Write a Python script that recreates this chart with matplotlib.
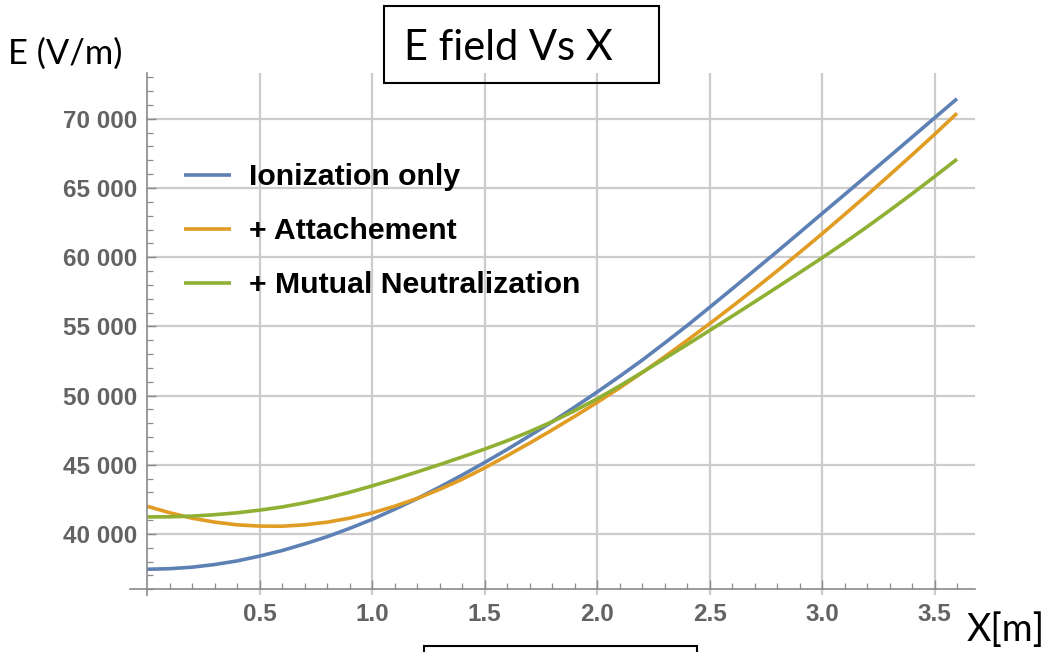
import matplotlib
matplotlib.use("Agg")
import matplotlib.pyplot as plt
from matplotlib.patches import Rectangle
from matplotlib.ticker import FixedLocator, FuncFormatter

# Position along the gap (m)
x_m = [0.0, 0.1, 0.2, 0.3, 0.4, 0.5, 0.6, 0.7, 0.8, 0.9,
       1.0, 1.1, 1.2, 1.3, 1.4, 1.5, 1.6, 1.7, 1.8, 1.9,
       2.0, 2.1, 2.2, 2.3, 2.4, 2.5, 2.6, 2.7, 2.8, 2.9,
       3.0, 3.1, 3.2, 3.3, 3.4, 3.5, 3.6]

# Electric field (V/m) for each model
ionization_only = [37450, 37490, 37600, 37790, 38050, 38400, 38800, 39280, 39800, 40400,
                   41050, 41780, 42550, 43380, 44250, 45160, 46100, 47090, 48100, 49160,
                   50250, 51380, 52550, 53790, 55050, 56370, 57700, 59050, 60400, 61770,
                   63150, 64520, 65900, 67280, 68670, 70060, 71450]
attachement = [42000, 41540, 41140, 40860, 40660, 40570, 40560, 40660, 40850, 41140,
               41520, 42000, 42560, 43220, 43950, 44770, 45650, 46560, 47510, 48490,
               49500, 50550, 51650, 52800, 53980, 55190, 56430, 57700, 59000, 60330,
               61690, 63080, 64490, 65930, 67390, 68870, 70400]
mutual_neutralization = [41230, 41240, 41290, 41390, 41530, 41720, 41950, 42250, 42600, 43010,
                         43470, 43960, 44480, 45010, 45560, 46130, 46730, 47390, 48110, 48900,
                         49760, 50690, 51670, 52670, 53680, 54700, 55730, 56770, 57820, 58880,
                         59950, 61050, 62190, 63370, 64580, 65820, 67080]

series_labels = ["Ionization only", "+ Attachement", "+ Mutual Neutralization"]
series_colors = ["#5E81B5", "#E19C24", "#8FB032"]

x_major = [0.5, 1.0, 1.5, 2.0, 2.5, 3.0, 3.5]
x_minor = [0.1, 0.2, 0.3, 0.4, 0.6, 0.7, 0.8, 0.9, 1.1, 1.2, 1.3, 1.4, 1.6, 1.7, 1.8, 1.9,
           2.1, 2.2, 2.3, 2.4, 2.6, 2.7, 2.8, 2.9, 3.1, 3.2, 3.3, 3.4, 3.6]
y_major = [40000, 45000, 50000, 55000, 60000, 65000, 70000]
y_minor = [36000, 37000, 38000, 39000, 41000, 42000, 43000, 44000, 46000, 47000, 48000, 49000,
           51000, 52000, 53000, 54000, 56000, 57000, 58000, 59000, 61000, 62000, 63000, 64000,
           66000, 67000, 68000, 69000, 71000, 72000, 73000]

title_text = "E field Vs X"
y_label = "E (V/m)"
x_label = "X[m]"

W, H = 1050, 652
fig = plt.figure(figsize=(W / 100, H / 100), dpi=100)
fig.patch.set_facecolor("white")

ax_left, ax_right, ax_top, ax_bottom = 130, 975, 73, 595
ax = fig.add_axes([ax_left / W, 1 - ax_bottom / H, (ax_right - ax_left) / W, (ax_bottom - ax_top) / H])
x_lo, x_hi = -0.0756, 3.68
ax.set_xlim(x_lo, x_hi)
ax.set_ylim(35590, 73310)
ax.set_facecolor("white")

grid_color = "#cccccc"
axis_color = "#8a8a8a"
tick_label_color = "#636363"

# grid
for xv in x_major:
    ax.axvline(xv, color=grid_color, lw=1.6, zorder=0)
for yv in y_major:
    ax.axhline(yv, xmin=(0 - x_lo) / (x_hi - x_lo), color=grid_color, lw=1.6, zorder=0)

# curves
for ys, lab, col in zip([ionization_only, attachement, mutual_neutralization], series_labels, series_colors):
    ax.plot(x_m, ys, color=col, lw=2.6, label=lab, solid_capstyle="butt",
            solid_joinstyle="round", zorder=3)

# axes through the origin
for side in ["top", "right"]:
    ax.spines[side].set_visible(False)
ax.spines["left"].set_position(("data", 0))
ax.spines["bottom"].set_position(("data", 36000))
for side in ["left", "bottom"]:
    ax.spines[side].set_color(axis_color)
    ax.spines[side].set_linewidth(1.2)
    ax.spines[side].set_zorder(4)

ax.xaxis.set_major_locator(FixedLocator(x_major))
ax.xaxis.set_minor_locator(FixedLocator(x_minor))
ax.yaxis.set_major_locator(FixedLocator(y_major))
ax.yaxis.set_minor_locator(FixedLocator(y_minor))
ax.xaxis.set_major_formatter(FuncFormatter(lambda v, p: f"{v:.1f}"))
ax.yaxis.set_major_formatter(FuncFormatter(lambda v, p: f"{int(v) // 1000} 000"))

ax.tick_params(axis="both", which="major", direction="in", length=6.5, width=1.0,
               color=axis_color, labelcolor=tick_label_color)
ax.tick_params(axis="both", which="minor", direction="in", length=4.2, width=0.9, color=axis_color)
ax.tick_params(axis="x", which="major", pad=10)
ax.tick_params(axis="y", which="major", pad=7)
for lbl in ax.get_xticklabels() + ax.get_yticklabels():
    lbl.set_fontfamily(["Liberation Sans", "DejaVu Sans"])
    lbl.set_fontweight("bold")
    lbl.set_fontsize(17.5)

leg = ax.legend(loc="upper left", bbox_to_anchor=(0.05, 0.8505), frameon=False,
                prop={"family": "Liberation Sans", "weight": "bold", "size": 21.8},
                handlelength=1.55, handletextpad=0.58, labelspacing=0.86, borderaxespad=0)

# title box
fig.patches.append(Rectangle((384 / W, 1 - 83 / H), (659 - 384) / W, (83 - 6) / H,
                             transform=fig.transFigure, fill=False, edgecolor="black", lw=1.5))
fig.text(404 / W, 1 - 60 / H, title_text, family="Lato", fontsize=30, va="baseline", ha="left")

# axis labels
fig.text(8 / W, 1 - 64 / H, y_label, family="Lato", fontsize=24.8, va="baseline", ha="left")
fig.text(967 / W, 1 - 641 / H, x_label, family="Lato", fontsize=27, va="baseline", ha="left")

# box below the axis
fig.patches.append(Rectangle((424 / W, -0.05), (697 - 424) / W, 0.05 + (652 - 646) / H,
                             transform=fig.transFigure, fill=False, edgecolor="black", lw=1.5))

fig.savefig("out.png", dpi=100)
